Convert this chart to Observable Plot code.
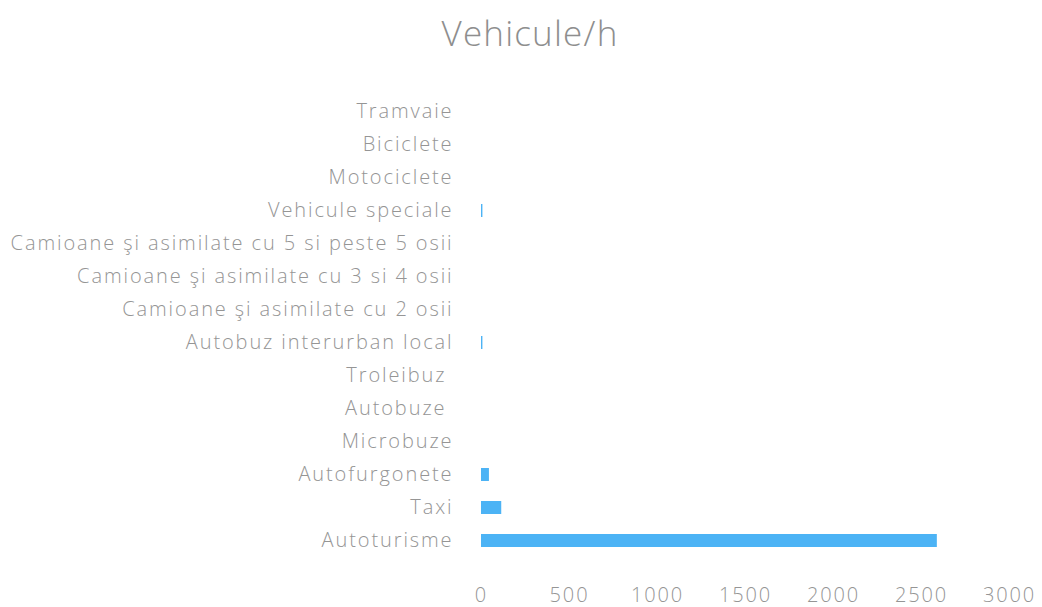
<!DOCTYPE html>
<html>
<head>
<meta charset="utf-8">
<script src="https://cdn.jsdelivr.net/npm/d3@7"></script>
<script src="https://cdn.jsdelivr.net/npm/@observablehq/plot@0.6"></script>
<style>
  html, body { margin: 0; padding: 0; background: #fff; }
  #title { height: 70px; width: 1024px; padding-left: 18px; text-align: center; font-family: "Open Sans", sans-serif; font-weight: 300; font-size: 35px; letter-spacing: 1.2px; color: #8e8e8e; line-height: 66px; }
  svg text { white-space: pre; letter-spacing: 1.9px; }
</style>
</head>
<body>
<div id="title">Vehicule/h</div>
<div id="chart"></div>
<script>
const categories = [
  "Tramvaie",
  "Biciclete",
  "Motociclete",
  "Vehicule speciale",
  "Camioane şi asimilate cu 5 si peste 5 osii",
  "Camioane şi asimilate cu 3 si 4 osii",
  "Camioane şi asimilate cu 2 osii",
  "Autobuz interurban local",
  "Troleibuz ",
  "Autobuze ",
  "Microbuze",
  "Autofurgonete",
  "Taxi",
  "Autoturisme"
];
const values = [0, 0, 0, 8, 0, 0, 0, 8, 0, 0, 0, 45, 115, 2590];
const xTicks = [0, 500, 1000, 1500, 2000, 2500, 3000];

const data = categories.map((c, i) => ({category: c, value: values[i]}));

const chart = Plot.plot({
  width: 1042,
  height: 537,
  marginLeft: 481,
  marginRight: 33,
  marginTop: 22,
  marginBottom: 46,
  style: {fontFamily: "'Open Sans', sans-serif", fontSize: "20px", fontWeight: 300, color: "#959595", background: "#fff"},
  x: {domain: [0, 3000], ticks: xTicks, tickFormat: d => String(d), tickSize: 0, tickPadding: 26, label: null},
  y: {domain: categories, paddingInner: 0.6, paddingOuter: 0.3, tickSize: 0, tickPadding: 28, label: null},
  marks: [
    Plot.barX(data, {y: "category", x: "value", fill: "#4cb3f5"})
  ]
});
document.getElementById("chart").appendChild(chart);
</script>
</body>
</html>
